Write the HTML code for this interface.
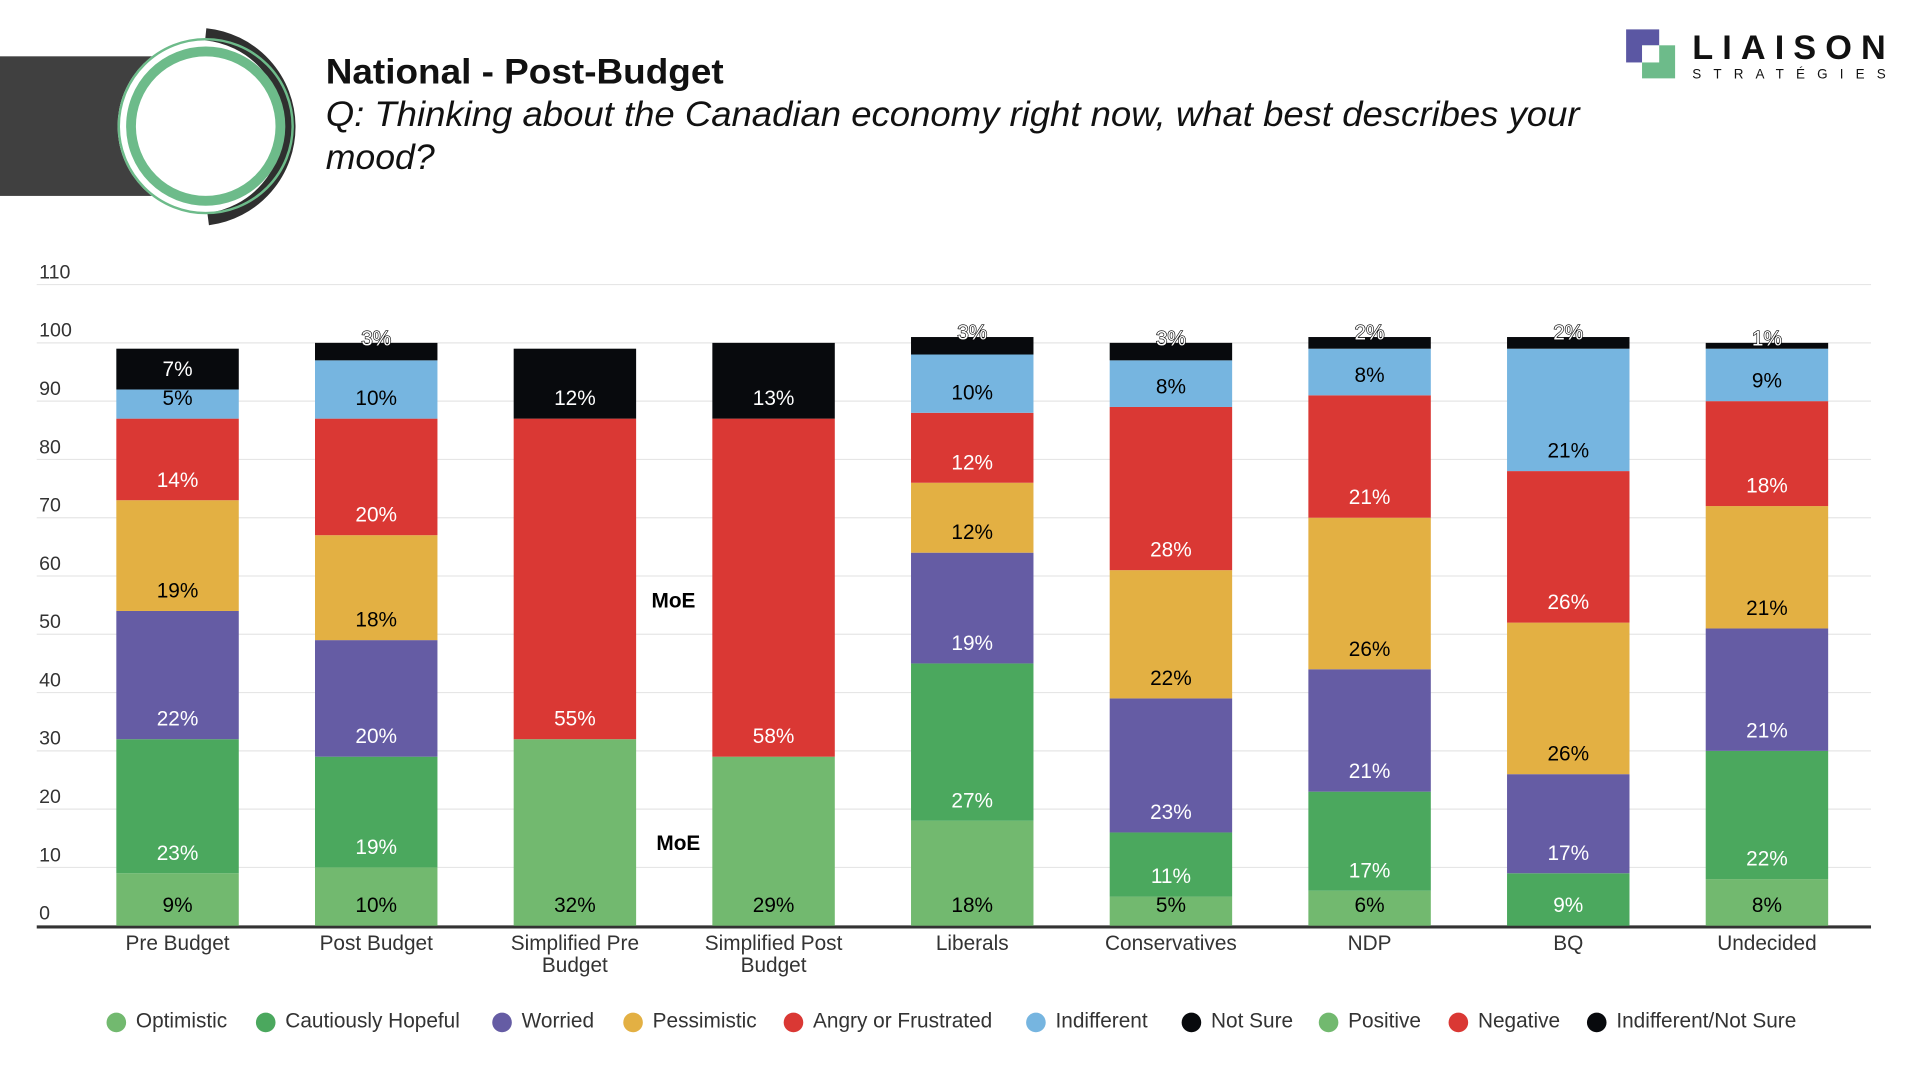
<!DOCTYPE html>
<html><head><meta charset="utf-8"><style>
html,body{margin:0;padding:0;background:#fff;width:1920px;height:1080px;overflow:hidden}
svg{display:block}
text{font-family:"Liberation Sans",sans-serif}
</style></head><body>
<svg id="chart" width="1920" height="1080" viewBox="0 0 1568 882" preserveAspectRatio="none" xmlns="http://www.w3.org/2000/svg">
  <g>
    <rect x="0" y="46" width="130" height="114" fill="#404040"/>
    <circle cx="168" cy="103" r="72" fill="#fff"/>
    <path d="M168 28 A76 76 0 0 1 170 179" fill="none" stroke="#2f2f2f" stroke-width="10"/>
    <circle cx="168" cy="103" r="71" fill="none" stroke="#6dbb8a" stroke-width="2"/>
    <circle cx="168" cy="103" r="61" fill="none" stroke="#6dbb8a" stroke-width="8"/>
    <text x="266" y="68" font-size="29" font-weight="bold" fill="#111" textLength="325" lengthAdjust="spacingAndGlyphs">National - Post-Budget</text>
    <text x="266" y="103" font-size="29" font-style="italic" fill="#111" textLength="1024" lengthAdjust="spacingAndGlyphs">Q: Thinking about the Canadian economy right now, what best describes your</text>
    <text x="266" y="138" font-size="29" font-style="italic" fill="#111" textLength="89" lengthAdjust="spacingAndGlyphs">mood?</text>
  </g>
  <g>
    <rect x="1328" y="24" width="27" height="27" fill="#5b57a3"/>
    <rect x="1341" y="37" width="27" height="27" fill="#6dbb8a"/>
    <rect x="1341" y="37" width="14" height="14" fill="#fff"/>
    <text x="1382" y="48" font-size="28" font-weight="bold" fill="#111" textLength="158" lengthAdjust="spacing">LIAISON</text>
    <text x="1382" y="64" font-size="11" fill="#111" textLength="158" lengthAdjust="spacing">STRATÉGIES</text>
  </g>
  <g id="grid"></g>
  <g id="bars"></g>
  <g id="labels"></g>
  <text x="550" y="496" font-size="17" font-weight="bold" text-anchor="middle" fill="#000">MoE</text>
  <text x="554" y="694" font-size="17" font-weight="bold" text-anchor="middle" fill="#000">MoE</text>
  <g id="xlabels"></g>
  <g id="legend"></g>
</svg>
<script>
const categories = ["Pre Budget","Post Budget","Simplified Pre|Budget","Simplified Post|Budget","Liberals","Conservatives","NDP","BQ","Undecided"];
const seriesNames = ["Optimistic","Cautiously Hopeful","Worried","Pessimistic","Angry or Frustrated","Indifferent","Not Sure","Positive","Negative","Indifferent/Not Sure"];
const optimistic = [9,10,null,null,18,5,6,0,8];
const hopeful = [23,19,null,null,27,11,17,9,22];
const worried = [22,20,null,null,19,23,21,17,21];
const pessimistic = [19,18,null,null,12,22,26,26,21];
const angry = [14,20,null,null,12,28,21,26,18];
const indifferent = [5,10,null,null,10,8,8,21,9];
const notSure = [7,3,null,null,3,3,2,2,1];
const positive = [null,null,32,29,null,null,null,null,null];
const negative = [null,null,55,58,null,null,null,null,null];
const indNotSure = [null,null,12,13,null,null,null,null,null];
const yTicks = [0,10,20,30,40,50,60,70,80,90,100,110];

const seriesData = [optimistic,hopeful,worried,pessimistic,angry,indifferent,notSure,positive,negative,indNotSure];
const colors = ["#72b96f","#4ba85e","#655ca4","#e3b043","#da3834","#76b5e0","#080a0d","#72b96f","#da3834","#080a0d"];
const textColors = ["#000","#fff","#fff","#000","#fff","#000","#fff","#000","#fff","#fff"];
const NS="http://www.w3.org/2000/svg";
const y0=756, pxPer=4.76, xStart=145, xStep=162.25, barW=100;
const yScale=v=>y0-v*pxPer;
const xScale=i=>xStart+i*xStep;
function mk(tag,attrs,parent,txt){const e=document.createElementNS(NS,tag);for(const k in attrs)e.setAttribute(k,attrs[k]);if(txt!==undefined)e.textContent=txt;parent.appendChild(e);return e;}

const grid=document.getElementById('grid');
yTicks.forEach(t=>{
  if(t>0){const l=mk('line',{x1:30,x2:1528,y1:yScale(t),y2:yScale(t),stroke:'#e6e6e6','stroke-width':1},grid);
  
  }
  const tx=mk('text',{x:32,y:yScale(t)-5,'font-size':16,fill:'#333'},grid,String(t));
  
  
});
const ax=mk('line',{x1:30,x2:1528,y1:757,y2:757,stroke:'#333','stroke-width':2.5},grid);



const bars=document.getElementById('bars'), labels=document.getElementById('labels'), xl=document.getElementById('xlabels');
categories.forEach((c,i)=>{
  let cum=0;
  const cx=xScale(i);
  seriesData.forEach((arr,s)=>{
    const v=arr[i]; if(v===null) return;
    const yb=yScale(cum), yt=yScale(cum+v);
    cum+=v;
    if(v===0) return;
    const r=mk('rect',{x:cx-barW/2,y:yt,width:barW,height:yb-yt,fill:colors[s]},bars);
    
    
    let t;
    if(v>=4){
      t=mk('text',{x:cx,y:yb-17+6,'font-size':17,'text-anchor':'middle',fill:textColors[s]},labels,v+'%');
    } else {
      t=mk('text',{x:cx,y:yt-4+6,'font-size':17,'text-anchor':'middle',fill:'#fff',stroke:'#000','stroke-width':1,'paint-order':'stroke'},labels,v+'%');
    }
    
    
  });
  c.split('|').forEach((ln,k)=>{
    const t=mk('text',{x:cx,y:776+k*18,'font-size':17,'text-anchor':'middle',fill:'#333'},xl,ln);
    
    
  });
});

const legend=document.getElementById('legend');
const legendX=[95,217,410,517,648,846,973,1085,1191,1304];
seriesNames.forEach((n,s)=>{
  const g=mk('g',{},legend);
  
  
  mk('circle',{cx:legendX[s],cy:835,r:8,fill:colors[s]},g);
  mk('text',{x:legendX[s]+16,y:839,'font-size':17,fill:'#333'},g,n);
});
</script>
</body></html>
